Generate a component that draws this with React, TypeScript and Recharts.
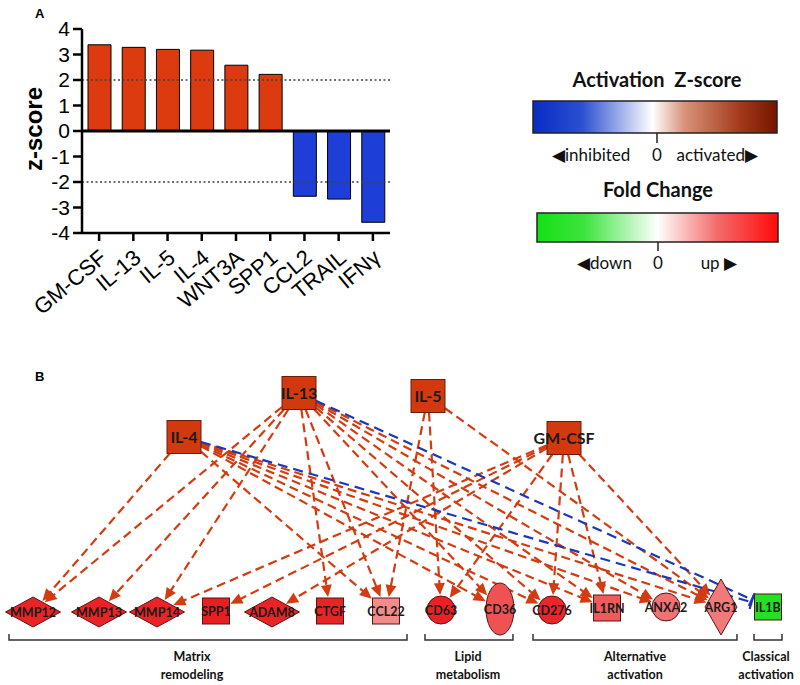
import React from 'react';
import { BarChart, Bar, XAxis, YAxis, Cell, ReferenceLine, ScatterChart, Scatter } from 'recharts';

// ---------- Panel A data ----------
const categories = ['GM-CSF', 'IL-13', 'IL-5', 'IL-4', 'WNT3A', 'SPP1', 'CCL2', 'TRAIL', 'IFNγ'];
const zScores = [3.38, 3.28, 3.2, 3.17, 2.58, 2.22, -2.56, -2.67, -3.58];
const zTicks = [-4, -3, -2, -1, 0, 1, 2, 3, 4];
const thresholds = [2, -2];

// ---------- Panel B data ----------
const regulators = [
  { id: 'IL-13', x: 299, y: 393, kind: 'regulator' },
  { id: 'IL-5', x: 428, y: 396, kind: 'regulator' },
  { id: 'IL-4', x: 184, y: 437, kind: 'regulator' },
  { id: 'GM-CSF', x: 564, y: 438, kind: 'regulator' },
];
const targets = [
  { id: 'MMP12', x: 33, y: 612, kind: 'peptidase' },
  { id: 'MMP13', x: 99, y: 612, kind: 'peptidase' },
  { id: 'MMP14', x: 157, y: 612, kind: 'peptidase' },
  { id: 'SPP1', x: 216, y: 611, kind: 'cytokine' },
  { id: 'ADAM8', x: 272, y: 612, kind: 'peptidase' },
  { id: 'CTGF', x: 330, y: 611, kind: 'cytokine' },
  { id: 'CCL22', x: 386, y: 611, kind: 'cytokine' },
  { id: 'CD63', x: 441, y: 610, kind: 'other' },
  { id: 'CD36', x: 500, y: 609, kind: 'receptor' },
  { id: 'CD276', x: 552, y: 610, kind: 'other' },
  { id: 'IL1RN', x: 607, y: 608, kind: 'cytokine' },
  { id: 'ANXA2', x: 666, y: 607, kind: 'other' },
  { id: 'ARG1', x: 721, y: 607, kind: 'enzyme' },
  { id: 'IL1B', x: 768, y: 607, kind: 'cytokine' },
];
const activations: [string, string][] = [
  ['IL-4', 'MMP12'], ['IL-4', 'CCL22'], ['IL-4', 'CD36'], ['IL-4', 'CD276'], ['IL-4', 'IL1RN'],
  ['IL-4', 'ANXA2'], ['IL-4', 'ARG1'],
  ['IL-13', 'MMP12'], ['IL-13', 'MMP13'], ['IL-13', 'MMP14'], ['IL-13', 'CTGF'], ['IL-13', 'CCL22'],
  ['IL-13', 'CD36'], ['IL-13', 'CD276'], ['IL-13', 'IL1RN'], ['IL-13', 'ANXA2'], ['IL-13', 'ARG1'],
  ['IL-5', 'CCL22'], ['IL-5', 'CD63'], ['IL-5', 'ARG1'],
  ['GM-CSF', 'MMP14'], ['GM-CSF', 'SPP1'], ['GM-CSF', 'ADAM8'], ['GM-CSF', 'CD63'],
  ['GM-CSF', 'CD276'], ['GM-CSF', 'IL1RN'], ['GM-CSF', 'ARG1'],
];
const inhibitions: [string, string][] = [['IL-13', 'IL1B'], ['IL-4', 'IL1B']];
const groups = [
  { label: ['Matrix', 'remodeling'], from: 9, to: 407, mid: 192 },
  { label: ['Lipid', 'metabolism'], from: 425, to: 513, mid: 468 },
  { label: ['Alternative', 'activation'], from: 533, to: 737, mid: 635 },
  { label: ['Classical', 'activation'], from: 754, to: 782, mid: 766 },
];

// ---------- styles ----------
const nodeFill: Record<string, string> = {
  'IL-13': '#d3390f', 'IL-5': '#d3390f', 'IL-4': '#d3390f', 'GM-CSF': '#d3390f',
  MMP12: '#e82426', MMP13: '#e82426', MMP14: '#e82426', SPP1: '#e81f22', ADAM8: '#e82426',
  CTGF: '#e82426', CCL22: '#f18c8a', CD63: '#ea2024', CD36: '#ee5253', CD276: '#ea2628',
  IL1RN: '#ef5b5b', ANXA2: '#f07272', ARG1: '#f07a7a', IL1B: '#22e024',
};
const geom: Record<string, { shape: string; hw: number; hh: number }> = {
  regulator: { shape: 'rect', hw: 17, hh: 16.5 },
  cytokine: { shape: 'rect', hw: 13.5, hh: 13 },
  peptidase: { shape: 'diamond', hw: 27.5, hh: 15 },
  enzyme: { shape: 'diamond', hw: 16, hh: 28 },
  receptor: { shape: 'ellipse', hw: 14, hh: 26 },
  other: { shape: 'ellipse', hw: 14, hh: 14 },
};
const ACT = '#d23c10';
const INH = '#1c38b4';
const NET_FONT = 'Lato, "Open Sans", sans-serif';
const AX_FONT = '"Liberation Sans", Arial, sans-serif';

const allNodes = [...regulators, ...targets];
const nodeById: Record<string, any> = Object.fromEntries(allNodes.map((n) => [n.id, n]));
const barData = categories.map((name, i) => ({ name, z: zScores[i] }));

function boundary(kind: string, ux: number, uy: number) {
  const g = geom[kind];
  const ax = Math.abs(ux), ay = Math.abs(uy);
  if (g.shape === 'rect') return Math.min(ax > 1e-6 ? g.hw / ax : 1e9, ay > 1e-6 ? g.hh / ay : 1e9);
  if (g.shape === 'diamond') return 1 / (ax / g.hw + ay / g.hh);
  return 1 / Math.sqrt((ux / g.hw) ** 2 + (uy / g.hh) ** 2);
}

const makeEdgeShape = (srcKind: string, tgtKind: string, inhibit: boolean) => (p: any) => {
  const { x1, y1, x2, y2 } = p;
  const dx = x2 - x1, dy = y2 - y1;
  const len = Math.hypot(dx, dy) || 1;
  const ux = dx / len, uy = dy / len;
  const nx = -uy, ny = ux;
  const s = boundary(srcKind, ux, uy);
  const t = boundary(tgtKind, ux, uy) + (inhibit ? 3 : 1);
  const sx = x1 + ux * s, sy = y1 + uy * s;
  const ex = x2 - ux * t, ey = y2 - uy * t;
  if (inhibit) {
    return (
      <g>
        <line x1={sx} y1={sy} x2={ex} y2={ey} stroke={INH} strokeWidth={2.2} strokeDasharray="10 6" />
        <line x1={ex + nx * 7} y1={ey + ny * 7} x2={ex - nx * 7} y2={ey - ny * 7} stroke={INH} strokeWidth={2.2} />
      </g>
    );
  }
  const L = 12, W = 5.5;
  const bx = ex - ux * L, by = ey - uy * L;
  return (
    <g>
      <line x1={sx} y1={sy} x2={bx + ux * 2} y2={by + uy * 2} stroke={ACT} strokeWidth={2.2} strokeDasharray="9 5" />
      <polygon points={`${ex},${ey} ${bx + nx * W},${by + ny * W} ${bx - nx * W},${by - ny * W}`} fill={ACT} />
    </g>
  );
};

const makeBracketShape = (g: { label: string[]; from: number; to: number; mid: number }) => (p: any) => {
  const { x1, y1, x2 } = p;
  const mx = x1 + ((g.mid - g.from) / (g.to - g.from)) * (x2 - x1);
  return (
    <g>
      <path d={`M${x1},${y1 - 6} L${x1},${y1} L${x2},${y1} L${x2},${y1 - 6}`} fill="none" stroke="#333" strokeWidth={1.5} />
      <text x={mx} y={y1 + 21} textAnchor="middle" fontFamily={NET_FONT} fontWeight="bold" fontSize={12.5} fill="#111">{g.label[0]}</text>
      <text x={mx} y={y1 + 39} textAnchor="middle" fontFamily={NET_FONT} fontWeight="bold" fontSize={12.5} fill="#111">{g.label[1]}</text>
    </g>
  );
};

const NodeShape = (p: any) => {
  const { cx, cy, payload } = p;
  const g = geom[payload.kind];
  const fill = nodeFill[payload.id];
  const stroke = payload.kind === 'regulator' ? '#6a1c08' : '#5a1414';
  let el;
  if (g.shape === 'rect') {
    el = <rect x={cx - g.hw} y={cy - g.hh} width={g.hw * 2} height={g.hh * 2} fill={fill} stroke={stroke} strokeWidth={1} />;
  } else if (g.shape === 'diamond') {
    el = <polygon points={`${cx - g.hw},${cy} ${cx},${cy - g.hh} ${cx + g.hw},${cy} ${cx},${cy + g.hh}`} fill={fill} stroke={stroke} strokeWidth={1} />;
  } else {
    el = <ellipse cx={cx} cy={cy} rx={g.hw} ry={g.hh} fill={fill} stroke={stroke} strokeWidth={1} />;
  }
  const isReg = payload.kind === 'regulator';
  return (
    <g>
      {el}
      <text x={cx} y={cy + (isReg ? 5.5 : 4.5)} textAnchor="middle" fontFamily={NET_FONT}
        fontWeight="bold" fontSize={isReg ? 16 : 12.5} fill="#1a1a1a">{payload.id}</text>
    </g>
  );
};

const XTick = (p: any) => {
  const { x, y, payload } = p;
  const ax = x + 9, ay = y + 17;
  return (
    <text x={ax} y={ay} transform={`rotate(-40 ${ax} ${ay})`} textAnchor="end" fontSize={22} fontFamily={AX_FONT} fill="#000">
      {payload.value}
    </text>
  );
};

const YLabel = (p: any) => {
  const vb = p.viewBox || { x: 0, y: 29, width: 82, height: 204 };
  const x = vb.x + 42, y = vb.y + vb.height / 2 - 2;
  return (
    <text x={x} y={y} transform={`rotate(-90 ${x} ${y})`} textAnchor="middle" fontSize={24} fontWeight="bold" fontFamily={AX_FONT} fill="#000">
      z-score
    </text>
  );
};

const Legend = () => (
  <svg width={800} height={685} style={{ position: 'absolute', left: 0, top: 0 }}>
    <defs>
      <linearGradient id="zgrad" x1="0" x2="1" y1="0" y2="0">
        <stop offset="0" stopColor="#0a2bc4" />
        <stop offset="0.2" stopColor="#2b4fd0" />
        <stop offset="0.49" stopColor="#ffffff" />
        <stop offset="0.62" stopColor="#d7937a" />
        <stop offset="0.85" stopColor="#a4391a" />
        <stop offset="1" stopColor="#741400" />
      </linearGradient>
      <linearGradient id="fgrad" x1="0" x2="1" y1="0" y2="0">
        <stop offset="0" stopColor="#14e014" />
        <stop offset="0.2" stopColor="#3fe43f" />
        <stop offset="0.5" stopColor="#ffffff" />
        <stop offset="0.75" stopColor="#f36a6a" />
        <stop offset="1" stopColor="#ff0a0a" />
      </linearGradient>
    </defs>
    <text x={35} y={18} fontFamily={AX_FONT} fontWeight="bold" fontSize={13}>A</text>
    <text x={35} y={381} fontFamily={AX_FONT} fontWeight="bold" fontSize={13}>B</text>
    <text x={657} y={87} textAnchor="middle" fontFamily={NET_FONT} fontWeight="bold" fontSize={20} fill="#111" xmlSpace="preserve">Activation  Z-score</text>
    <rect x={533} y={101} width={244} height={32} fill="url(#zgrad)" stroke="#222" strokeWidth={1.5} />
    <line x1={657} y1={133} x2={657} y2={143} stroke="#222" strokeWidth={1.5} />
    <text x={552} y={161} fontFamily={NET_FONT} fontSize={17} fill="#111">◀inhibited</text>
    <text x={657} y={161} textAnchor="middle" fontFamily={NET_FONT} fontSize={17} fill="#111">0</text>
    <text x={758} y={161} textAnchor="end" fontFamily={NET_FONT} fontSize={17} fill="#111">activated▶</text>
    <text x={658} y={197} textAnchor="middle" fontFamily={NET_FONT} fontWeight="bold" fontSize={20} fill="#111">Fold Change</text>
    <rect x={537} y={213} width={241} height={29} fill="url(#fgrad)" stroke="#222" strokeWidth={1.5} />
    <line x1={658} y1={242} x2={658} y2={251} stroke="#222" strokeWidth={1.5} />
    <text x={577} y={269} fontFamily={NET_FONT} fontSize={17} fill="#111">◀down</text>
    <text x={658} y={269} textAnchor="middle" fontFamily={NET_FONT} fontSize={17} fill="#111">0</text>
    <text x={737} y={269} textAnchor="end" fontFamily={NET_FONT} fontSize={17} fill="#111">up ▶</text>
  </svg>
);

export default function App() {
  return (
    <div style={{ position: 'absolute', left: 0, top: 0, width: 800, height: 685, background: '#fff', overflow: 'hidden' }}>
      <Legend />
      <div style={{ position: 'absolute', left: 0, top: 0 }}>
        <BarChart width={400} height={340} data={barData} margin={{ top: 29, right: 10, bottom: 0, left: 0 }} barSize={23}>
          <XAxis dataKey="name" height={107} interval={0} axisLine={{ stroke: '#000', strokeWidth: 2.5 }}
            tickLine={{ stroke: '#000', strokeWidth: 2.5 }} tickSize={8} tick={<XTick />} />
          <YAxis domain={[-4, 4]} ticks={zTicks} width={82} interval={0} allowDataOverflow
            axisLine={{ stroke: '#000', strokeWidth: 2.5 }} tickLine={{ stroke: '#000', strokeWidth: 2.5 }}
            tickSize={9} tickMargin={3}
            tick={{ fontSize: 21, fill: '#000', fontFamily: AX_FONT }}
            label={{ content: (p: any) => <YLabel {...p} /> }} />
          {thresholds.map((t) => (
            <ReferenceLine key={t} y={t} stroke="#444" strokeWidth={1.6} strokeDasharray="2 2.5" />
          ))}
          <Bar dataKey="z" isAnimationActive={false} stroke="#000" strokeWidth={1}>
            {barData.map((d) => (
              <Cell key={d.name} fill={d.z > 0 ? '#dc3b0f' : '#1e3ed8'} />
            ))}
          </Bar>
          <ReferenceLine y={0} stroke="#000" strokeWidth={3} />
        </BarChart>
      </div>
      <div style={{ position: 'absolute', left: 0, top: 360 }}>
        <ScatterChart width={800} height={325} margin={{ top: 0, right: 0, bottom: 0, left: 0 }}>
          <XAxis type="number" dataKey="x" domain={[0, 800]} hide allowDataOverflow />
          <YAxis type="number" dataKey="y" domain={[360, 685]} reversed hide allowDataOverflow />
          <Scatter data={allNodes} isAnimationActive={false} shape={() => <g />} />
          {activations.map(([s, t], i) => {
            const a = nodeById[s], b = nodeById[t];
            return (
              <ReferenceLine key={'a' + i} segment={[{ x: a.x, y: a.y }, { x: b.x, y: b.y }]} ifOverflow="visible"
                shape={makeEdgeShape(a.kind, b.kind, false)} />
            );
          })}
          {inhibitions.map(([s, t], i) => {
            const a = nodeById[s], b = nodeById[t];
            return (
              <ReferenceLine key={'i' + i} segment={[{ x: a.x, y: a.y }, { x: b.x, y: b.y }]} ifOverflow="visible"
                shape={makeEdgeShape(a.kind, b.kind, true)} />
            );
          })}
          {groups.map((g) => (
            <ReferenceLine key={g.label[0]} segment={[{ x: g.from, y: 640 }, { x: g.to, y: 640 }]} ifOverflow="visible"
              shape={makeBracketShape(g)} />
          ))}
        </ScatterChart>
      </div>
      <div style={{ position: 'absolute', left: 0, top: 360 }}>
        <ScatterChart width={800} height={325} margin={{ top: 0, right: 0, bottom: 0, left: 0 }}>
          <XAxis type="number" dataKey="x" domain={[0, 800]} hide allowDataOverflow />
          <YAxis type="number" dataKey="y" domain={[360, 685]} reversed hide allowDataOverflow />
          <Scatter data={allNodes} isAnimationActive={false} shape={(p: any) => <NodeShape {...p} />} />
        </ScatterChart>
      </div>
    </div>
  );
}
